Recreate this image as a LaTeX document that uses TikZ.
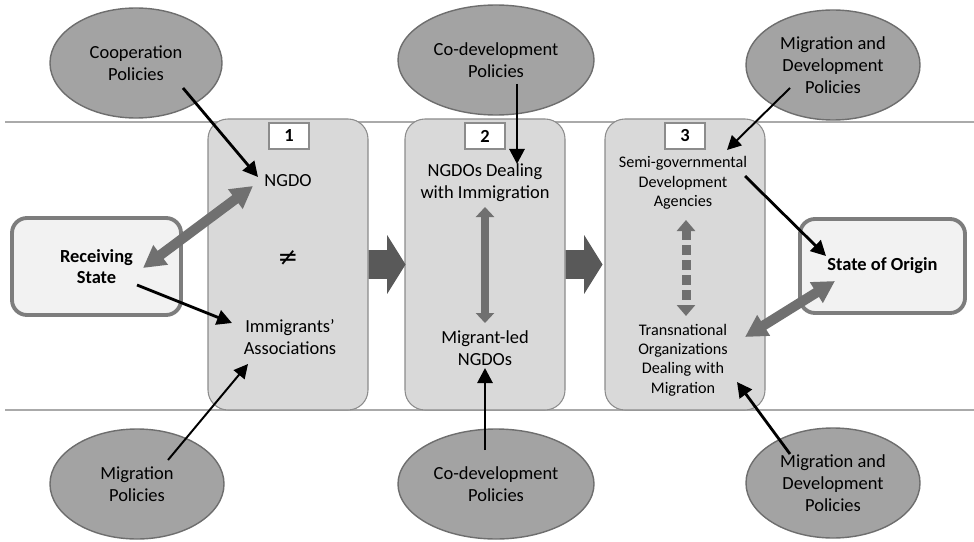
\documentclass[tikz,border=0pt]{standalone}
\usepackage{fontspec}
\setmainfont{Carlito}
\newfontfamily\symfont{DejaVu Sans}
\usetikzlibrary{arrows.meta,positioning,shapes.geometric,shapes.arrows}
\definecolor{ellfill}{RGB}{163,163,163}
\definecolor{ellline}{RGB}{110,110,110}
\definecolor{boxfill}{RGB}{217,217,217}
\definecolor{boxline}{RGB}{140,140,140}
\definecolor{statefill}{RGB}{242,242,242}
\definecolor{stateline}{RGB}{125,125,125}
\definecolor{dblgray}{RGB}{112,112,112}
\definecolor{blockgray}{RGB}{89,89,89}
\definecolor{bandgray}{RGB}{170,170,170}

\begin{document}
\begin{tikzpicture}[
    x=0.2mm, y=-0.2mm,
    every node/.style={align=center, font=\fontsize{10.5}{12.5}\selectfont},
    smalltext/.style={font=\fontsize{9.2}{11}\selectfont},
    policy/.style={ellipse, draw=ellline, line width=0.8pt, fill=ellfill,
                   minimum width=34.8mm, minimum height=22mm, inner sep=0pt},
    stagebox/.style={rectangle, rounded corners=4mm, draw=boxline,
                     line width=0.6pt, fill=boxfill,
                     minimum width=32mm, minimum height=58.2mm},
    numbox/.style={rectangle, draw=boxline, fill=white, line width=0.6pt,
                   minimum width=8mm, minimum height=5.2mm, inner sep=0pt,
                   font=\fontsize{10.5}{12}\selectfont\bfseries},
    statebox/.style={rectangle, rounded corners=3mm, draw=stateline,
                     line width=2.2pt, fill=statefill,
                     font=\fontsize{10.5}{12}\selectfont\bfseries},
    blockarr/.style={single arrow, fill=blockgray, inner xsep=0pt,
                     inner ysep=2.8mm, single arrow head extend=3mm,
                     single arrow head indent=0pt, single arrow tip angle=116,
                     minimum height=7.4mm, outer sep=0pt},
    blk/.style={-{Triangle[length=3mm, width=3mm]}, line width=1.6pt},
    thinblk/.style={-{Triangle[length=2.8mm, width=2.8mm]}, line width=1.1pt},
    dbl/.style={{Triangle[length=4.4mm, width=4.6mm]}-{Triangle[length=4.4mm, width=4.6mm]},
                line width=2mm, draw=dblgray},
    vdbl/.style={{Triangle[length=2mm, width=3.6mm]}-{Triangle[length=2mm, width=3.6mm]},
                 line width=1.6mm, draw=dblgray},
    dashdbl/.style={{Triangle[length=2.2mm, width=3.6mm]}-{Triangle[length=2.2mm, width=3.6mm]},
                    line width=1.8mm, draw=dblgray, dash pattern=on 2mm off 1mm},
    band/.style={draw=bandgray, line width=0.9pt}
  ]
  \useasboundingbox (0,0) rectangle (974,542);

  % band lines
  \draw[band] (5,122) -- (974,122);
  \draw[band] (5,410) -- (974,410);

  % policies
  \node[policy, minimum width=34.4mm] (coop) at (136,63) {Cooperation\\Policies};
  \node[policy, minimum width=39.2mm] (codevtop) at (496,60) {Co-development\\Policies};
  \node[policy] (mdtop) at (833,65) {Migration and\\Development\\Policies};
  \node[policy] (migpol) at (137,484) {Migration\\Policies};
  \node[policy, minimum width=39.2mm] (codevbot) at (496,484) {Co-development\\Policies};
  \node[policy] (mdbot) at (833,483) {Migration and\\Development\\Policies};

  % stages
  \node[stagebox] (stage1) at (288,264.5) {};
  \node[stagebox] (stage2) at (485,264.5) {};
  \node[stagebox] (stage3) at (685,264.5) {};
  \node[numbox] (num1) at (289,136) {1};
  \node[numbox] (num2) at (485,136) {2};
  \node[numbox] (num3) at (685,136) {3};
  \node[blockarr, right=0pt of stage1] (flow1) {};
  \node[blockarr, right=0pt of stage2] (flow2) {};

  \node (ngdo) at (288,181) {NGDO};
  \node[font=\fontsize{14}{14}\selectfont\symfont] (neq) at (288,258) {≠};
  \node (immig) at (290,337) {Immigrants’\\Associations};
  \node (ngdoimm) at (485,183) {NGDOs Dealing\\with Immigration};
  \node (migled) at (485,348) {Migrant-led\\NGDOs};
  \node[smalltext] (semigov) at (683,183) {Semi-governmental\\Development\\Agencies};
  \node[smalltext] (transnat) at (683,360) {Transnational\\Organizations\\Dealing with\\Migration};

  % states
  \node[statebox, minimum width=33.8mm, minimum height=19.4mm] (recv) at (96.5,266.5) {Receiving\\State};
  \node[statebox, minimum width=33mm, minimum height=18.8mm] (origin) at (882.5,266) {State of Origin};

  % connectors
  \draw[blk] ([shift={(47,25)}]coop.center) -- ([shift={(-30,-4)}]ngdo.center);
  \draw[dbl] ([shift={(46.5,1.5)}]recv.center) -- ([shift={(-35,5)}]ngdo.center);
  \draw[blk] ([shift={(40.5,18.5)}]recv.center) -- ([shift={(-58,-14)}]immig.center);
  \draw[thinblk] ([shift={(31,-24)}]migpol.center) -- ([shift={(-42,27)}]immig.center);
  \draw[blk] ([shift={(21,24)}]codevtop.center) -- ([shift={(32,-19)}]ngdoimm.center);
  \draw[vdbl] ([shift={(0,24)}]ngdoimm.center) -- ([shift={(0,-25)}]migled.center);
  \draw[blk] ([shift={(-11,-34)}]codevbot.center) -- ([shift={(0,20)}]migled.center);
  \draw[thinblk] ([shift={(-43,23)}]mdtop.center) -- ([shift={(44,-33)}]semigov.center);
  \draw[blk] ([shift={(62,-7)}]semigov.center) -- ([shift={(-56.5,-10)}]origin.center);
  \draw[dashdbl] ([shift={(3,37)}]semigov.center) -- ([shift={(3,-44)}]transnat.center);
  \draw[dbl] ([shift={(-47.5,15)}]origin.center) -- ([shift={(62,-23)}]transnat.center);
  \draw[blk] ([shift={(-43,-29)}]mdbot.center) -- ([shift={(54,22)}]transnat.center);
\end{tikzpicture}
\end{document}
